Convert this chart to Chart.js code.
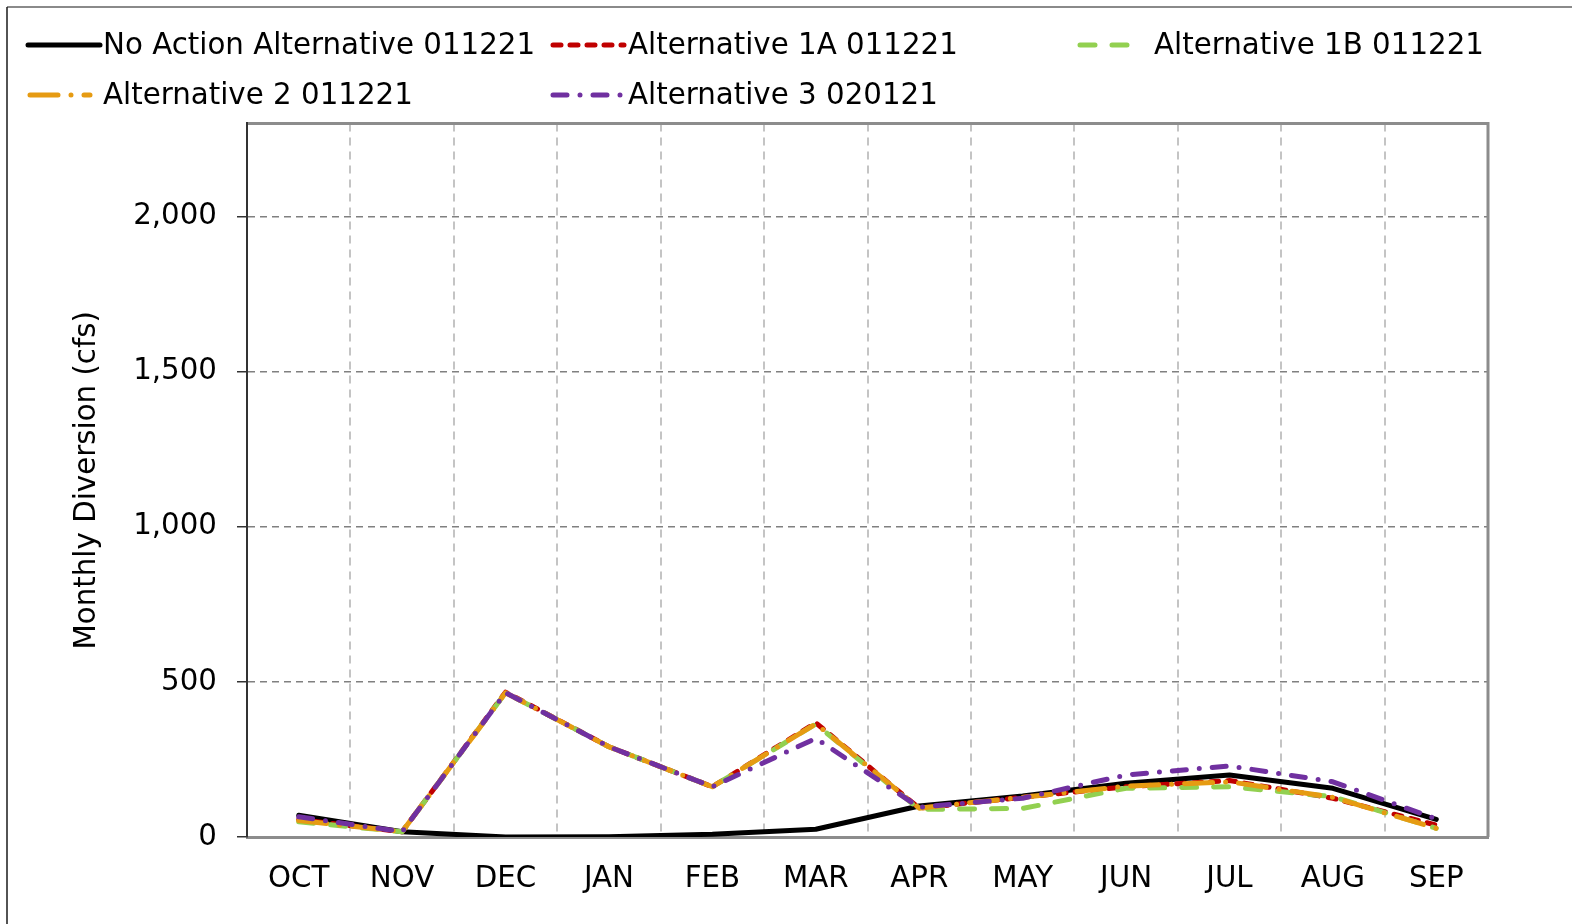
<!DOCTYPE html>
<html>
<head>
<meta charset="utf-8">
<script src="https://cdn.jsdelivr.net/npm/chart.js@4/dist/chart.umd.min.js"></script>
<style>
  html, body { margin: 0; padding: 0; background: #fff; }
  #wrap { position: relative; width: 1572px; height: 924px; }
  canvas { display: block; }
</style>
</head>
<body>
<div id="wrap"><canvas id="c" width="1572" height="924"></canvas></div>
<script>
// ---- data ----
const months = ['OCT','NOV','DEC','JAN','FEB','MAR','APR','MAY','JUN','JUL','AUG','SEP'];
const seriesNames = ['No Action Alternative 011221','Alternative 1A 011221','Alternative 1B 011221','Alternative 2 011221','Alternative 3 020121'];
const noAction = [70, 17, 0, 1, 9, 25, 100, 132, 173, 200, 157, 57];
const alt1A    = [56, 17, 467, 291, 162, 368, 93, 128, 162, 182, 125, 38];
const alt1B    = [49, 17, 465, 291, 162, 364, 89, 92, 157, 162, 130, 28];
const alt2     = [53, 17, 465, 291, 162, 365, 93, 128, 164, 178, 128, 28];
const alt3     = [65, 17, 465, 291, 162, 318, 96, 125, 200, 229, 178, 58];
const yTickValues = [0, 500, 1000, 1500, 2000];
const yMax = 2300;

const FONT = "'DejaVu Sans', Verdana, sans-serif";
const FSIZE = 29.3;

const styles = [
  {color:'#000000', dash:[], order:5},
  {color:'#C00000', dash:[8, 9], order:4},
  {color:'#92D050', dash:[15, 17], order:3},
  {color:'#E69B12', dash:[28, 13, 0, 13], order:2},
  {color:'#7030A0', dash:[14, 13, 0, 13], order:1}
];
const seriesData = [noAction, alt1A, alt1B, alt2, alt3];

const datasets = seriesData.map((d, i) => ({
  label: seriesNames[i],
  data: d,
  borderColor: styles[i].color,
  backgroundColor: styles[i].color,
  borderWidth: 5,
  borderDash: styles[i].dash,
  borderCapStyle: 'round',
  borderJoinStyle: 'round',
  pointRadius: 0,
  pointHoverRadius: 0,
  tension: 0,
  fill: false,
  order: styles[i].order
}));

// legend positions (layout)
const legendLayout = [
  {x1:28, x2:100, tx:103, y:45},
  {x1:553, x2:624, tx:628, y:45},
  {x1:1080, x2:1136, tx:1154, y:45},
  {x1:30, x2:90, tx:103, y:95},
  {x1:553, x2:624, tx:628, y:95}
];

const framePlugin = {
  id: 'frame',
  beforeDraw(chart) {
    const ctx = chart.ctx;
    ctx.save();
    ctx.fillStyle = '#fff';
    ctx.fillRect(0, 0, chart.width, chart.height);
    ctx.strokeStyle = '#8a8a8a';
    ctx.lineWidth = 2;
    ctx.beginPath(); ctx.moveTo(7, 7); ctx.lineTo(chart.width, 7); ctx.stroke();
    ctx.strokeStyle = '#1a1a1a';
    ctx.lineWidth = 1.5;
    ctx.beginPath(); ctx.moveTo(7, 7); ctx.lineTo(7, chart.height); ctx.stroke();
    ctx.restore();
  },
  beforeDatasetsDraw(chart) {
    const {ctx, chartArea: a} = chart;
    ctx.save();
    ctx.strokeStyle = '#8c8c8c';
    ctx.lineWidth = 3;
    ctx.beginPath();
    ctx.moveTo(a.left, a.top); ctx.lineTo(a.right, a.top); ctx.lineTo(a.right, a.bottom);
    ctx.stroke();
    ctx.strokeStyle = '#333';
    ctx.lineWidth = 2;
    ctx.beginPath(); ctx.moveTo(a.left, a.top - 1.5); ctx.lineTo(a.left, a.bottom); ctx.stroke();
    ctx.restore();
  },
  afterDraw(chart) {
    const ctx = chart.ctx;
    ctx.save();
    chart.data.datasets.forEach((ds, i) => {
      const L = legendLayout[i];
      ctx.strokeStyle = ds.borderColor;
      ctx.lineWidth = 5;
      ctx.lineCap = 'round';
      ctx.setLineDash(ds.borderDash || []);
      ctx.beginPath(); ctx.moveTo(L.x1, L.y); ctx.lineTo(L.x2, L.y); ctx.stroke();
      ctx.setLineDash([]);
      ctx.fillStyle = '#000';
      ctx.font = FSIZE + 'px ' + FONT;
      ctx.textBaseline = 'middle';
      ctx.textAlign = 'left';
      ctx.fillText(ds.label, L.tx, L.y + 1);
    });
    ctx.restore();
  }
};

new Chart(document.getElementById('c'), {
  type: 'line',
  data: { labels: months, datasets },
  plugins: [framePlugin],
  options: {
    responsive: false,
    animation: false,
    events: [],
    layout: { padding: { left: 0, right: 84, top: 123.5, bottom: 0 } },
    plugins: { legend: { display: false }, tooltip: { enabled: false }, title: { display: false } },
    scales: {
      x: {
        type: 'category',
        offset: true,
        grid: { offset: true, color: '#c4c4c4', lineWidth: 2, drawTicks: false },
        border: { display: true, color: '#8c8c8c', width: 3, dash: [8, 6] },
        ticks: { color: '#000', font: { family: FONT, size: FSIZE }, padding: 25, maxRotation: 0, autoSkip: false },
        afterFit(s) { s.height = 87; }
      },
      y: {
        min: 0, max: yMax,
        ticks: { stepSize: 500, color: '#000', font: { family: FONT, size: FSIZE }, padding: 20,
          callback: v => v.toLocaleString('en-US') },
        afterBuildTicks(s) { s.ticks = yTickValues.map(v => ({ value: v })); },
        grid: { color: '#808080', lineWidth: 1.5, drawTicks: true, tickLength: 10, tickColor: '#333', tickWidth: 1.5, tickBorderDash: [] },
        border: { display: true, color: '#333', width: 2, dash: [7, 5] },
        title: { display: true, text: 'Monthly Diversion (cfs)', color: '#000', font: { family: FONT, size: FSIZE }, padding: { top: 70, bottom: 0 } },
        afterFit(s) { s.width = 247; }
      }
    }
  }
});
</script>
</body>
</html>
